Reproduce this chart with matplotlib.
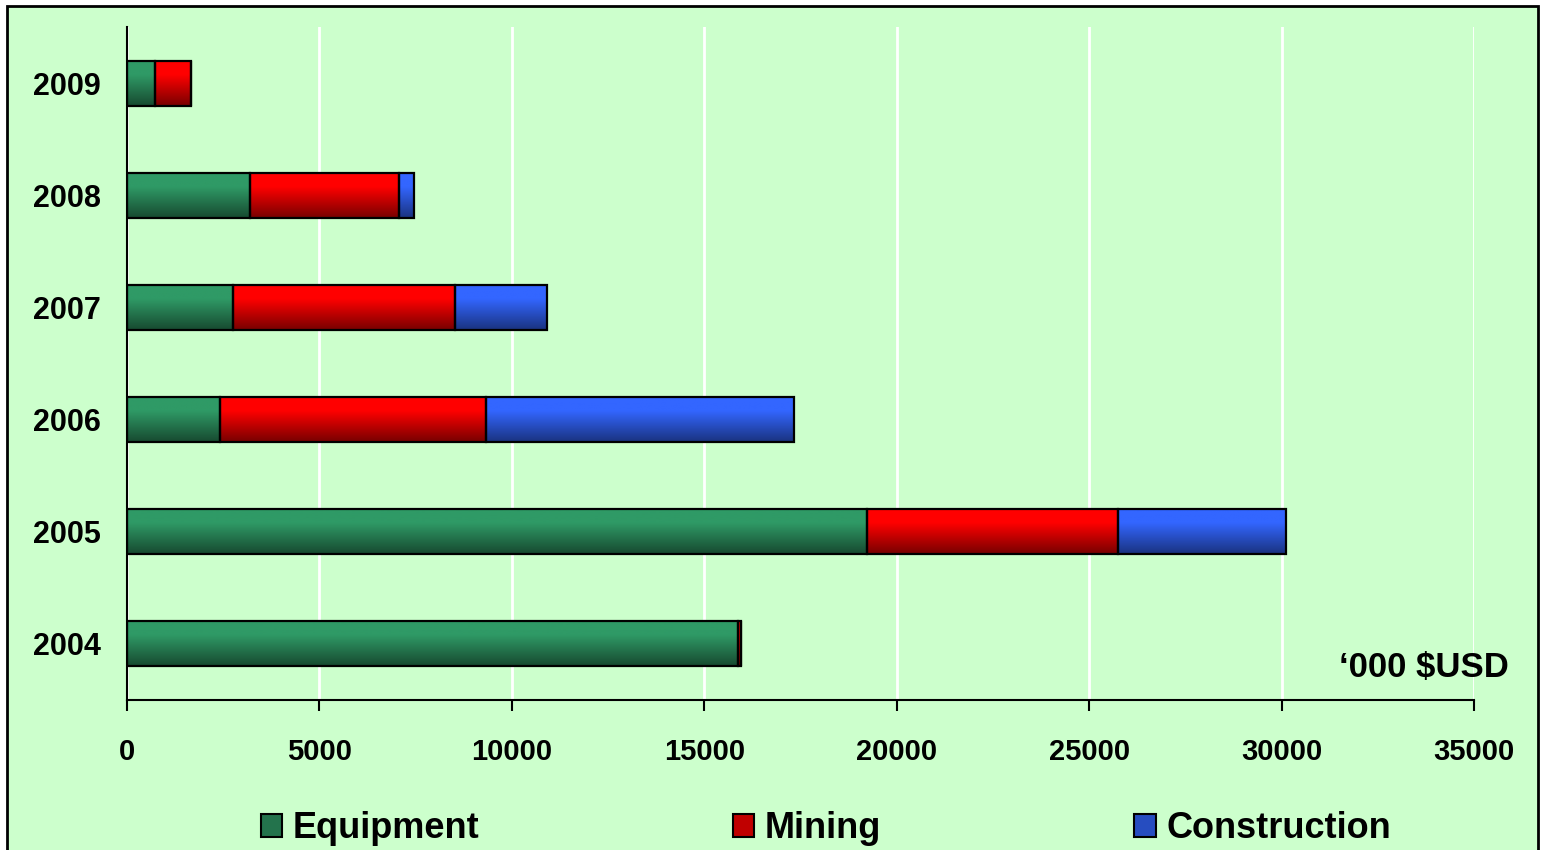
import numpy as np
import matplotlib
matplotlib.use("Agg")
import matplotlib.pyplot as plt
from matplotlib.patches import Patch, Rectangle
from matplotlib.colors import LinearSegmentedColormap

years = ["2004", "2005", "2006", "2007", "2008", "2009"]
equipment = [15870, 19230, 2420, 2750, 3200, 730]
mining = [80, 6520, 6910, 5770, 3870, 930]
construction = [0, 4360, 8000, 2390, 390, 0]
series_names = ["Equipment", "Mining", "Construction"]
xticks = [0, 5000, 10000, 15000, 20000, 25000, 30000, 35000]

top_colors = ["#2f9a66", "#ff0000", "#3366ff"]
bot_colors = ["#174a30", "#780000", "#1a3380"]
mid_colors = ["#23734c", "#c00000", "#264dc0"]

plt.rcParams['font.family'] = ['Liberation Sans', 'DejaVu Sans']
plt.rcParams['font.weight'] = 'bold'

fig = plt.figure(figsize=(15.43, 8.5), dpi=100)
fig.patch.set_facecolor("white")
bg = "#ccffcc"
fig.patches.append(Rectangle((7/1543, -0.05), (1538-7)/1543, 1.05 - 6/850,
                             transform=fig.transFigure, facecolor=bg,
                             edgecolor="black", linewidth=2, zorder=-10))

ax = fig.add_axes([127/1543, 1-700/850, (1474-127)/1543, (700-27)/850])
ax.set_facecolor("none")

pos = np.arange(len(years))
h = 0.4
left = np.zeros(len(years))
series = [equipment, mining, construction]
for i, vals in enumerate(series):
    vals = np.array(vals, dtype=float)
    bars = ax.barh(pos, vals, height=h, left=left, facecolor="none",
                   edgecolor="black", linewidth=1.6, zorder=3)
    cmap = LinearSegmentedColormap.from_list(
        "g%d" % i, [(0.0, bot_colors[i]), (0.7, top_colors[i]), (1.0, top_colors[i])])
    for b in bars:
        if b.get_width() <= 0:
            continue
        x0, y0, w, hh = b.get_x(), b.get_y(), b.get_width(), b.get_height()
        grad = np.linspace(1, 0, 100).reshape(-1, 1)
        im = ax.imshow(grad, cmap=cmap, extent=[x0, x0 + w, y0, y0 + hh],
                       origin="upper", aspect="auto", zorder=2, vmin=0, vmax=1)
        im.set_clip_path(b)
    left = left + vals

ax.set_xlim(0, 35000)
ax.set_ylim(-0.5, 5.5)
ax.set_xticks(xticks)
ax.set_xticklabels([str(t) for t in xticks])
ax.set_yticks(pos)
ax.set_yticklabels(years)
ax.tick_params(axis="x", direction="out", length=8, width=1.5, pad=19,
               labelsize=21, colors="black")
ax.tick_params(axis="y", length=0, pad=19, labelsize=22)
for lab in ax.get_xticklabels() + ax.get_yticklabels():
    lab.set_fontweight("bold")
ax.grid(axis="x", color="white", linewidth=2, zorder=0)
ax.set_axisbelow(True)
for s in ["top", "right"]:
    ax.spines[s].set_visible(False)
for s in ["left", "bottom"]:
    ax.spines[s].set_linewidth(1.5)
    ax.spines[s].set_color("black")

fig.text(1509/1543, 1-668/850, "\u2018000 $USD", ha="right", va="center",
         fontsize=25, fontweight="bold")

handles = [Patch(facecolor=mid_colors[i], edgecolor="black", linewidth=1.5,
                 label=series_names[i]) for i in range(3)]
leg = fig.legend(handles=handles, loc="center", bbox_to_anchor=(826/1543, 1-829/850),
                 ncol=3, frameon=False, columnspacing=7.0,
                 handlelength=0.6, handleheight=0.6, handletextpad=0.3,
                 prop={"weight": "bold", "size": 26})

fig.savefig("out.png", dpi=100, facecolor=fig.get_facecolor())
